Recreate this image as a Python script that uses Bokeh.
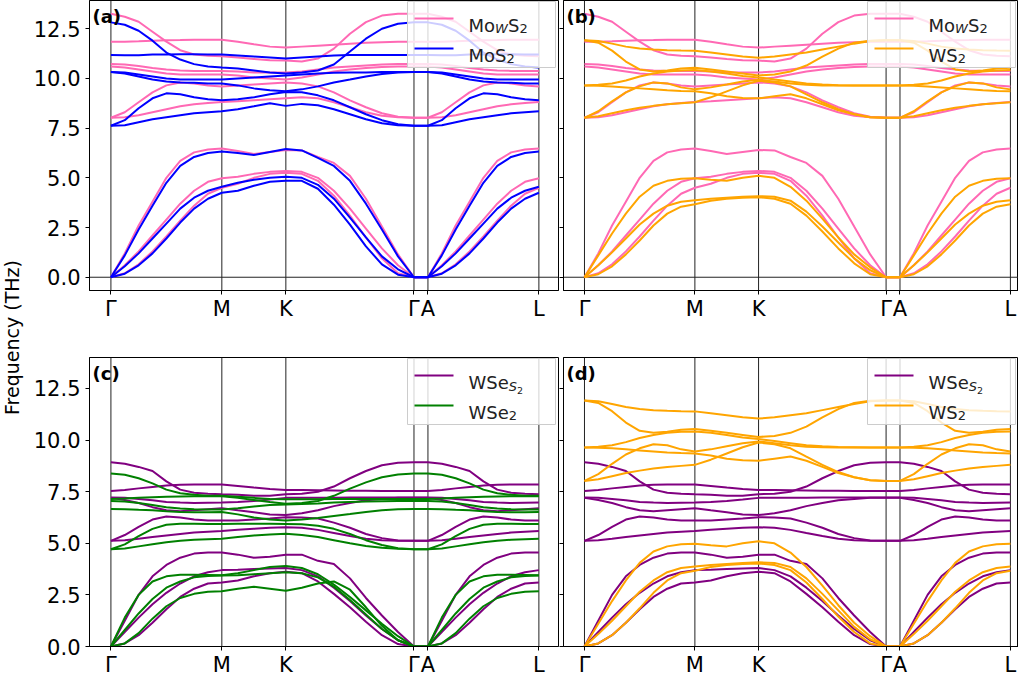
import numpy as np
from bokeh.plotting import figure
from bokeh.models import (Range1d, FixedTicker, Span, Label, BoxAnnotation, Arrow,
                          NumeralTickFormatter)
from bokeh.layouts import row, column
from bokeh.embed import file_html
from bokeh.resources import INLINE

FONT = "DejaVu Sans"

# ---------------- path / ticks ----------------
hs_pos = [0.0, 1.0, 1.577, 2.732, 2.858, 3.858]
hs_labels = ["Γ", "M", "K", "Γ", "A", "L"]
freq_ticks = [0.0, 2.5, 5.0, 7.5, 10.0, 12.5]

k_gm = [0.0, 0.125, 0.25, 0.375, 0.5, 0.625, 0.75, 0.875, 1.0]
k_mk = [1.144, 1.289, 1.433, 1.577]
k_kg = [1.721, 1.866, 2.010, 2.155, 2.299, 2.443, 2.588, 2.732]
k_al = [2.858, 2.983, 3.108, 3.233, 3.358, 3.483, 3.608, 3.733, 3.858]

# ---------------- MoWS2 (pink) ----------------
mows2_gm = [
    [0, 0.2, 0.65, 1.3, 2.05, 2.85, 3.6, 4.2, 4.5],
    [0, 0.6, 1.3, 2.1, 2.9, 3.7, 4.35, 4.8, 4.98],
    [0, 1.2, 2.6, 3.8, 5.0, 5.85, 6.28, 6.43, 6.47],
    [8.02, 8.05, 8.15, 8.3, 8.45, 8.6, 8.7, 8.77, 8.82],
    [8.02, 8.3, 8.8, 9.3, 9.65, 9.8, 9.75, 9.65, 9.6],
    [10.6, 10.55, 10.45, 10.35, 10.25, 10.2, 10.2, 10.2, 10.2],
    [10.72, 10.7, 10.62, 10.52, 10.45, 10.4, 10.38, 10.37, 10.37],
    [11.84, 11.85, 11.87, 11.9, 11.92, 11.93, 11.95, 11.95, 11.95],
    [13.25, 13.1, 12.85, 12.35, 11.85, 11.42, 11.2, 11.14, 11.12],
]
mows2_mk = [
    [4.7, 5.0, 5.2, 5.25],
    [5.05, 5.2, 5.3, 5.35],
    [6.35, 6.2, 6.3, 6.4],
    [8.85, 8.9, 8.95, 9.0],
    [9.65, 9.7, 9.75, 9.8],
    [10.15, 10.05, 10.0, 9.95],
    [10.35, 10.3, 10.3, 10.3],
    [11.85, 11.72, 11.6, 11.55],
    [11.05, 10.98, 10.92, 10.9],
]
mows2_kg = [
    [5.2, 4.85, 4.1, 3.1, 2.0, 0.95, 0.2, 0],
    [5.3, 5.0, 4.35, 3.45, 2.45, 1.45, 0.6, 0],
    [6.38, 6.05, 5.75, 5.1, 3.95, 2.55, 1.15, 0],
    [9.05, 9.0, 8.8, 8.55, 8.3, 8.12, 8.05, 8.02],
    [9.75, 9.6, 9.3, 8.9, 8.55, 8.25, 8.07, 8.02],
    [10.05, 10.2, 10.35, 10.45, 10.52, 10.57, 10.6, 10.6],
    [10.35, 10.45, 10.55, 10.6, 10.65, 10.7, 10.72, 10.72],
    [11.6, 11.65, 11.7, 11.75, 11.8, 11.82, 11.84, 11.84],
    [10.85, 11.0, 11.5, 12.25, 12.83, 13.16, 13.25, 13.25],
]

# ---------------- MoS2 (blue) ----------------
mos2_gm = [
    [0, 0.18, 0.6, 1.2, 1.95, 2.75, 3.45, 3.95, 4.25],
    [0, 0.55, 1.2, 1.95, 2.7, 3.45, 4.0, 4.35, 4.55],
    [0, 1.1, 2.4, 3.6, 4.75, 5.6, 6.05, 6.25, 6.32],
    [7.62, 7.65, 7.8, 7.95, 8.05, 8.15, 8.25, 8.3, 8.35],
    [7.62, 7.9, 8.5, 9.0, 9.25, 9.2, 9.05, 8.95, 8.9],
    [10.32, 10.25, 10.1, 9.95, 9.85, 9.8, 9.78, 9.75, 9.75],
    [10.32, 10.3, 10.2, 10.1, 10.0, 9.95, 9.95, 9.95, 9.95],
    [11.18, 11.17, 11.17, 11.2, 11.2, 11.22, 11.22, 11.2, 11.2],
    [12.82, 12.7, 12.4, 11.9, 11.3, 10.95, 10.72, 10.6, 10.55],
]
mos2_mk = [
    [4.35, 4.6, 4.8, 4.85],
    [4.75, 4.9, 5.0, 5.05],
    [6.25, 6.15, 6.3, 6.45],
    [8.45, 8.6, 8.75, 8.62],
    [8.95, 9.05, 9.2, 9.32],
    [9.65, 9.5, 9.4, 9.35],
    [10.0, 10.05, 10.1, 10.15],
    [11.15, 11.1, 11.05, 11.0],
    [10.5, 10.4, 10.3, 10.25],
]
mos2_kg = [
    [4.85, 4.45, 3.65, 2.65, 1.55, 0.65, 0.13, 0],
    [5.0, 4.65, 3.95, 3.0, 2.0, 1.05, 0.4, 0],
    [6.38, 6.0, 5.6, 4.85, 3.7, 2.4, 1.05, 0],
    [8.72, 8.65, 8.45, 8.2, 7.95, 7.75, 7.65, 7.62],
    [9.3, 9.15, 8.9, 8.55, 8.2, 7.9, 7.7, 7.62],
    [9.45, 9.6, 9.8, 9.95, 10.1, 10.22, 10.3, 10.32],
    [10.2, 10.25, 10.28, 10.3, 10.3, 10.32, 10.32, 10.32],
    [11.05, 11.1, 11.15, 11.18, 11.18, 11.18, 11.18, 11.18],
    [10.3, 10.4, 10.7, 11.35, 12.0, 12.5, 12.75, 12.82],
]

# ---------------- WS2 (orange) ----------------
ws2_gm = [
    [0, 0.15, 0.55, 1.15, 1.85, 2.6, 3.2, 3.55, 3.67],
    [0, 0.6, 1.25, 1.95, 2.65, 3.2, 3.6, 3.8, 3.87],
    [0, 1.1, 2.2, 3.2, 4.05, 4.6, 4.85, 4.95, 4.98],
    [8.02, 8.1, 8.25, 8.4, 8.52, 8.62, 8.7, 8.75, 8.8],
    [8.02, 8.35, 8.85, 9.3, 9.6, 9.8, 9.75, 9.55, 9.45],
    [9.64, 9.63, 9.6, 9.55, 9.5, 9.45, 9.4, 9.37, 9.35],
    [9.64, 9.68, 9.75, 9.9, 10.1, 10.25, 10.35, 10.4, 10.42],
    [11.92, 11.8, 11.4, 10.85, 10.45, 10.35, 10.4, 10.5, 10.54],
    [11.92, 11.88, 11.75, 11.6, 11.5, 11.45, 11.42, 11.4, 11.39],
]
ws2_mk = [
    [3.85, 3.95, 4.0, 4.02],
    [3.95, 4.0, 4.05, 4.08],
    [4.9, 4.85, 5.0, 5.1],
    [9.05, 9.35, 9.65, 9.88],
    [9.55, 9.7, 9.85, 9.93],
    [9.25, 9.1, 9.02, 9.0],
    [10.35, 10.25, 10.12, 10.05],
    [10.45, 10.35, 10.25, 10.15],
    [11.3, 11.2, 11.1, 11.04],
]
ws2_kg = [
    [3.95, 3.7, 3.1, 2.3, 1.45, 0.7, 0.15, 0],
    [4.05, 3.85, 3.3, 2.55, 1.75, 0.95, 0.35, 0],
    [5.0, 4.55, 3.85, 2.95, 2.0, 1.15, 0.5, 0],
    [9.8, 9.6, 9.2, 8.8, 8.45, 8.2, 8.05, 8.02],
    [9.85, 9.75, 9.68, 9.65, 9.64, 9.64, 9.64, 9.64],
    [9.1, 9.2, 9.0, 8.7, 8.4, 8.2, 8.05, 8.02],
    [9.95, 9.85, 9.75, 9.7, 9.66, 9.65, 9.64, 9.64],
    [10.2, 10.35, 10.65, 11.1, 11.5, 11.8, 11.9, 11.92],
    [11.1, 11.2, 11.3, 11.45, 11.6, 11.75, 11.88, 11.92],
]

# ---------------- WSeS2 (purple) ----------------
wses2_gm = [
    [0, 0.15, 0.55, 1.15, 1.8, 2.4, 2.8, 3.05, 3.1],
    [0, 0.7, 1.4, 2.05, 2.6, 3.05, 3.4, 3.6, 3.7],
    [0, 1.25, 2.5, 3.4, 3.95, 4.3, 4.5, 4.55, 4.55],
    [5.12, 5.15, 5.22, 5.3, 5.38, 5.45, 5.52, 5.56, 5.59],
    [5.12, 5.4, 5.8, 6.15, 6.3, 6.25, 6.15, 6.1, 6.1],
    [7.2, 7.1, 6.95, 6.75, 6.6, 6.55, 6.6, 6.65, 6.7],
    [7.22, 7.2, 7.15, 7.08, 7.0, 6.97, 6.95, 6.96, 6.97],
    [7.53, 7.58, 7.66, 7.73, 7.8, 7.83, 7.85, 7.85, 7.85],
    [8.92, 8.85, 8.7, 8.5, 8.0, 7.6, 7.45, 7.4, 7.37],
]
wses2_mk = [
    [3.2, 3.4, 3.55, 3.62],
    [3.72, 3.75, 3.78, 3.8],
    [4.45, 4.3, 4.35, 4.45],
    [5.65, 5.7, 5.75, 5.78],
    [6.1, 6.15, 6.2, 6.26],
    [6.6, 6.5, 6.4, 6.37],
    [7.0, 7.05, 7.12, 7.2],
    [7.78, 7.7, 7.63, 7.58],
    [7.35, 7.3, 7.3, 7.38],
]
wses2_kg = [
    [3.55, 3.15, 2.55, 1.9, 1.2, 0.55, 0.12, 0],
    [3.7, 3.4, 2.85, 2.2, 1.5, 0.85, 0.3, 0],
    [4.45, 4.15, 4.0, 3.3, 2.35, 1.5, 0.7, 0],
    [5.75, 5.65, 5.5, 5.35, 5.22, 5.15, 5.12, 5.12],
    [6.25, 6.2, 6.0, 5.75, 5.45, 5.25, 5.14, 5.12],
    [6.45, 6.6, 6.8, 6.95, 7.08, 7.15, 7.2, 7.2],
    [7.2, 7.2, 7.21, 7.22, 7.22, 7.22, 7.22, 7.22],
    [7.58, 7.57, 7.56, 7.55, 7.54, 7.53, 7.53, 7.53],
    [7.4, 7.5, 7.75, 8.15, 8.5, 8.78, 8.9, 8.92],
]

# ---------------- WSe2 (green) ----------------
wse2_gm = [
    [0, 0.15, 0.65, 1.35, 1.95, 2.35, 2.55, 2.65, 2.68],
    [0, 0.8, 1.6, 2.3, 2.85, 3.15, 3.35, 3.42, 3.44],
    [0, 1.4, 2.5, 3.15, 3.4, 3.47, 3.47, 3.46, 3.45],
    [4.71, 4.75, 4.85, 4.95, 5.05, 5.12, 5.17, 5.2, 5.22],
    [4.71, 4.95, 5.35, 5.7, 5.9, 5.95, 5.95, 5.94, 5.94],
    [6.66, 6.65, 6.62, 6.6, 6.55, 6.52, 6.5, 6.5, 6.52],
    [7.05, 7.02, 6.95, 6.85, 6.75, 6.68, 6.65, 6.64, 6.64],
    [7.15, 7.17, 7.2, 7.23, 7.25, 7.27, 7.28, 7.28, 7.28],
    [8.38, 8.32, 8.15, 7.9, 7.6, 7.42, 7.35, 7.3, 7.3],
]
wse2_mk = [
    [2.8, 2.9, 2.8, 2.7],
    [3.45, 3.5, 3.55, 3.6],
    [3.55, 3.7, 3.85, 3.9],
    [5.3, 5.38, 5.43, 5.46],
    [5.95, 5.95, 5.95, 5.94],
    [6.4, 6.25, 6.15, 6.1],
    [6.7, 6.78, 6.85, 6.88],
    [7.2, 7.1, 7.0, 6.92],
    [7.25, 7.2, 7.15, 7.13],
]
wse2_kg = [
    [2.85, 3.05, 3.15, 2.75, 1.9, 1.0, 0.3, 0],
    [3.55, 3.35, 2.9, 2.25, 1.55, 0.85, 0.3, 0],
    [3.8, 3.5, 3.0, 2.4, 1.75, 1.1, 0.5, 0],
    [5.4, 5.3, 5.15, 5.0, 4.87, 4.78, 4.73, 4.71],
    [5.92, 5.85, 5.7, 5.45, 5.15, 4.92, 4.76, 4.71],
    [6.15, 6.22, 6.32, 6.42, 6.52, 6.6, 6.65, 6.66],
    [6.9, 6.93, 6.97, 7.0, 7.02, 7.04, 7.05, 7.05],
    [6.95, 7.05, 7.3, 7.65, 7.95, 8.2, 8.33, 8.38],
    [7.13, 7.13, 7.14, 7.14, 7.15, 7.15, 7.15, 7.15],
]

PINK, BLUE, ORANGE, PURPLE, GREEN = "#ff69b4", "#0000ff", "#ffa500", "#800080", "#008000"


def band_paths(gm, mk, kg):
    """Γ-M-K-Γ lines, and Γ-A-L lines (A-L reads the same as Γ-M)."""
    k_main = k_gm + k_mk + k_kg
    k_second = [k_kg[-1]] + k_al
    xs, ys = [], []
    for b in range(len(gm)):
        xs.append(k_main)
        ys.append(gm[b] + mk[b] + kg[b])
        xs.append(k_second)
        ys.append([gm[b][0]] + gm[b])
    return xs, ys


# legend label pieces: (text, font px, style, dy, advance px)
LBL = {
    "MoWS2": [("Mo", 18, "normal", 0, 26.6), ("W", 13, "italic", -3.5, 12.9),
              ("S", 18, "normal", 0, 11.4), ("2", 13, "normal", -3.5, 8.3)],
    "MoS2": [("MoS", 18, "normal", 0, 38.0), ("2", 13, "normal", -3.5, 8.3)],
    "WS2": [("WS", 18, "normal", 0, 29.2), ("2", 13, "normal", -3.5, 8.3)],
    "WSeS2": [("WSe", 18, "normal", 0, 40.3), ("S", 13, "italic", -4.5, 8.3),
              ("2", 9.5, "normal", -8.5, 6.0)],
    "WSe2": [("WSe", 18, "normal", 0, 40.3), ("2", 13, "normal", -3.5, 8.3)],
}
TXT = "#222222"


def make_panel(tag, series, x_range, y_range, fw, fh, show_ylab, mb_left, mb_top, zero_line):
    p = figure(frame_width=fw, frame_height=fh, x_range=Range1d(*x_range),
               y_range=Range1d(*y_range), output_backend="svg", toolbar_location=None,
               min_border=0, min_border_left=mb_left, min_border_top=mb_top,
               min_border_right=1 if show_ylab else 0, min_border_bottom=0)
    p.grid.visible = False
    p.outline_line_color = "black"
    p.outline_line_width = 1
    p.background_fill_color = "white"
    p.border_fill_color = "white"

    xa = p.xaxis[0]
    xa.ticker = FixedTicker(ticks=hs_pos)
    xa.major_label_overrides = {v: l for v, l in zip(hs_pos, hs_labels)}
    xa.major_label_text_font = FONT
    xa.major_label_text_font_size = "21px"
    xa.major_label_text_color = "black"
    xa.major_tick_out = 4
    xa.major_tick_in = 0
    xa.major_label_standoff = 2
    xa.axis_line_color = "black"
    xa.major_tick_line_color = "black"

    ya = p.yaxis[0]
    ya.ticker = FixedTicker(ticks=freq_ticks)
    ya.major_tick_out = 4
    ya.major_tick_in = 0
    ya.axis_line_color = "black"
    ya.major_tick_line_color = "black"
    ya.major_label_text_font = FONT
    ya.major_label_text_font_size = "21px"
    ya.major_label_text_color = "black"
    if show_ylab:
        ya.formatter = NumeralTickFormatter(format="0.0")
        ya.major_label_standoff = 5
    else:
        ya.major_label_overrides = {t: "" for t in freq_ticks}
        ya.major_label_standoff = 0

    for xv in hs_pos:
        p.add_layout(Span(location=xv, dimension="height", line_color="#222222",
                          line_width=1, level="underlay"))
    if zero_line:
        p.add_layout(Span(location=0, dimension="width", line_color="#222222",
                          line_width=1, level="underlay"))

    for (name, gm, mk, kg, color) in series:
        xs, ys = band_paths(gm, mk, kg)
        p.multi_line(xs=xs, ys=ys, line_color=color, line_width=2)

    # ---- legend (box, sample lines, texts) in screen units from the frame ----
    box_w, box_h = 148, 66
    right = fw - 3
    left = right - box_w
    top = fh - 1
    p.add_layout(BoxAnnotation(left=left, right=right, top=top, bottom=top - box_h,
                               left_units="screen", right_units="screen",
                               top_units="screen", bottom_units="screen",
                               fill_color="white", fill_alpha=0.8,
                               line_color="#cccccc", line_width=1, line_alpha=1.0,
                               level="annotation"))
    for i, (name, gm, mk, kg, color) in enumerate(series):
        yc = top - 17 - 30 * i
        p.add_layout(Arrow(start=None, end=None, x_start=left + 7, y_start=yc,
                           x_end=left + 46, y_end=yc, start_units="screen",
                           end_units="screen", line_color=color, line_width=2,
                           level="overlay"))
        xcur = left + 61
        for (txt, fs, style, dy, adv) in LBL[name]:
            p.add_layout(Label(x=xcur, y=yc - 6.5 + dy, x_units="screen", y_units="screen",
                               text=txt, text_font=FONT, text_font_size=f"{fs}px",
                               text_font_style=style, text_color=TXT,
                               text_baseline="alphabetic", text_align="left",
                               level="overlay"))
            xcur += adv

    p.add_layout(Label(x=3, y=fh - 5, x_units="screen", y_units="screen", text=tag,
                       text_font=FONT, text_font_size="18px", text_font_style="bold",
                       text_color="black", text_baseline="top", text_align="left",
                       level="overlay"))
    return p


A_W, B_W = 469, 455
TOP_H, BOT_H = 290, 289
xa_rng = (-0.193, -0.193 + A_W / 110.93)
xb_rng = (-0.19, -0.19 + B_W / 110.4)
y_top = (-0.667, 13.92)
y_bot = (0.0, 14.0)

pa = make_panel("(a)", [("MoWS2", mows2_gm, mows2_mk, mows2_kg, PINK),
                        ("MoS2", mos2_gm, mos2_mk, mos2_kg, BLUE)],
                xa_rng, y_top, A_W, TOP_H, True, 54, 0, True)
pb = make_panel("(b)", [("MoWS2", mows2_gm, mows2_mk, mows2_kg, PINK),
                        ("WS2", ws2_gm, ws2_mk, ws2_kg, ORANGE)],
                xb_rng, y_top, B_W, TOP_H, False, 0, 0, True)
pc = make_panel("(c)", [("WSeS2", wses2_gm, wses2_mk, wses2_kg, PURPLE),
                        ("WSe2", wse2_gm, wse2_mk, wse2_kg, GREEN)],
                xa_rng, y_bot, A_W, BOT_H, True, 54, 34, False)
pd = make_panel("(d)", [("WSeS2", wses2_gm, wses2_mk, wses2_kg, PURPLE),
                        ("WS2", ws2_gm, ws2_mk, ws2_kg, ORANGE)],
                xb_rng, y_bot, B_W, BOT_H, False, 0, 34, False)

LAB_H = 655
lab = figure(width=30, height=LAB_H, x_range=Range1d(0, 30), y_range=Range1d(0, LAB_H),
             x_axis_type=None, y_axis_type=None, output_backend="svg",
             toolbar_location=None, min_border=0)
lab.grid.visible = False
lab.outline_line_color = None
lab.add_layout(Label(x=11, y=LAB_H - 337, text="Frequency (THz)", angle=np.pi / 2,
                     text_align="center", text_baseline="middle", text_font=FONT,
                     text_font_size="19px", text_color="black"))

layout = row(lab, column(row(pa, pb), row(pc, pd)))

open("out.html", "w").write(file_html(layout, INLINE))
